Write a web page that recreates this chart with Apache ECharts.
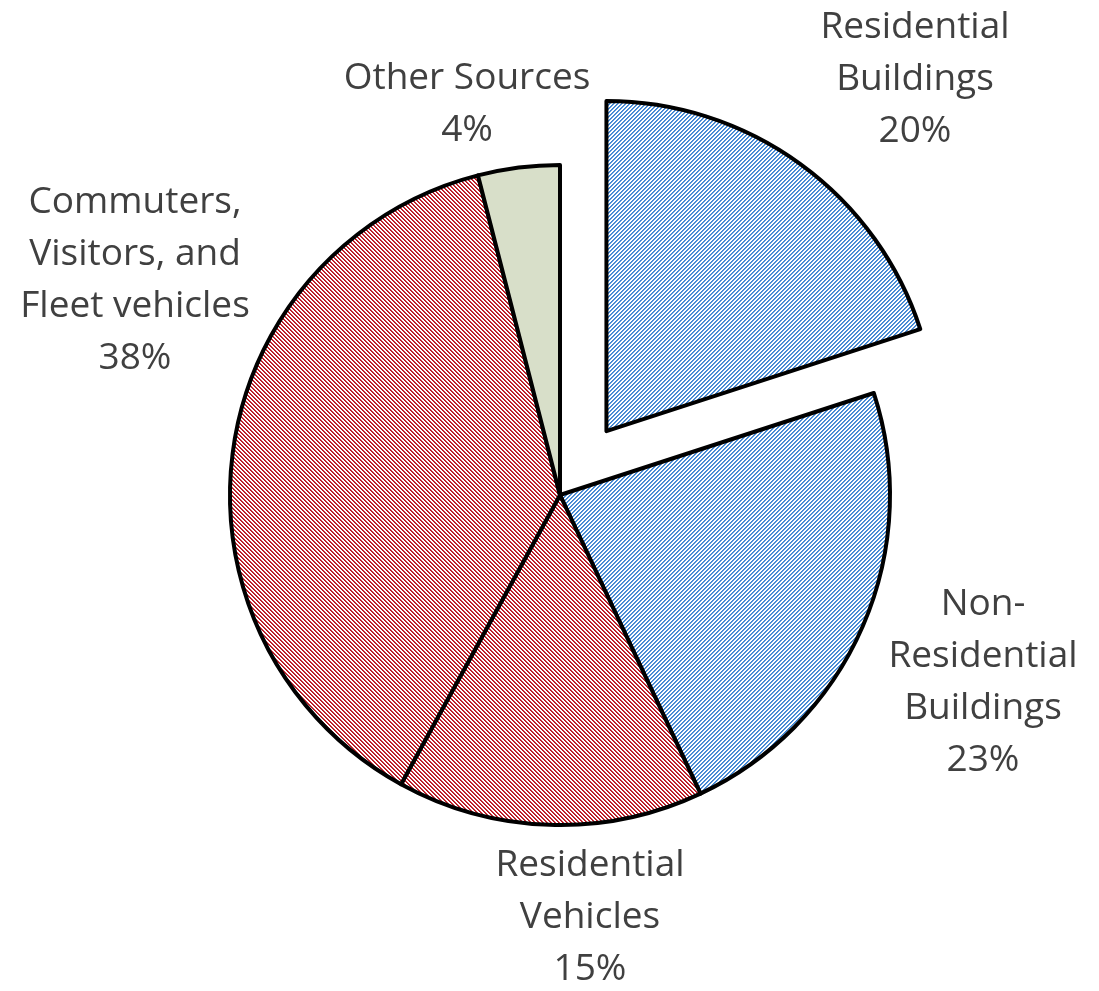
<!DOCTYPE html>
<html>
<head>
<meta charset="utf-8">
<script src="https://cdn.jsdelivr.net/npm/echarts@6/dist/echarts.min.js"></script>
<style>
html,body{margin:0;padding:0;background:#fff;}
#chart{width:1099px;height:991px;}
</style>
</head>
<body>
<div id="chart"></div>
<script>
const categories = ['Residential\nBuildings', 'Non-\nResidential\nBuildings', 'Residential\nVehicles', 'Commuters,\nVisitors, and\nFleet vehicles', 'Other Sources'];
const values = [20, 23, 15, 38, 4];
const explodedIndex = 0;

function hatch(color, dir) {
  const c = document.createElement('canvas');
  c.width = 4; c.height = 4;
  const ctx = c.getContext('2d');
  ctx.fillStyle = '#ffffff';
  ctx.fillRect(0, 0, 4, 4);
  for (let x = 0; x < 4; x++) {
    for (let y = 0; y < 4; y++) {
      const k = dir === 'up' ? (x + y) % 4 : ((x - y) % 4 + 4) % 4;
      if (k === 0) { ctx.globalAlpha = 1; ctx.fillStyle = color; ctx.fillRect(x, y, 1, 1); }
      if (k === 1) { ctx.globalAlpha = 0.85; ctx.fillStyle = color; ctx.fillRect(x, y, 1, 1); }
    }
  }
  return { image: c, repeat: 'repeat' };
}
const blue = hatch('#3d84d2', 'up');
const red = hatch('#b8121d', 'down');
const fills = [blue, blue, red, red, '#d8dfc9'];
const labelAnchors = [[915, 79], [983, 682], [590, 917], [135, 280], [467, 104]];

const cx = 560, cy = 495, R = 330, explode = 79;
const total = values.reduce((a, b) => a + b, 0);
let before = 0;
for (let i = 0; i < explodedIndex; i++) before += values[i];
const midAng = (before + values[explodedIndex] / 2) / total * 2 * Math.PI;
const ecx = cx + explode * Math.sin(midAng), ecy = cy - explode * Math.cos(midAng);

const baseLabel = {
  show: true,
  position: 'outside',
  formatter: p => p.name + '\n' + p.value + '%',
  fontFamily: 'Open Sans',
  fontSize: 37,
  lineHeight: 52,
  color: '#404040',
  align: 'center'
};
function makeSeries(center, showIdx) {
  return {
    type: 'pie',
    center: center,
    radius: [0, R],
    startAngle: 90,
    clockwise: true,
    silent: true,
    avoidLabelOverlap: false,
    emphasis: { disabled: true },
    labelLine: { show: false },
    label: baseLabel,
    labelLayout: function (params) {
      const a = labelAnchors[params.dataIndex];
      return { x: a[0], y: a[1], align: 'center', verticalAlign: 'middle' };
    },
    data: categories.map((n, i) => {
      const vis = showIdx(i);
      return {
        name: n,
        value: values[i],
        itemStyle: vis ? { color: fills[i], borderColor: '#000', borderWidth: 4 }
                       : { color: 'rgba(0,0,0,0)', borderWidth: 0 },
        label: { show: vis }
      };
    })
  };
}

const chart = echarts.init(document.getElementById('chart'), null, { renderer: 'canvas' });
chart.setOption({
  animation: false,
  backgroundColor: '#ffffff',
  series: [
    makeSeries([cx, cy], i => i !== explodedIndex),
    makeSeries([ecx, ecy], i => i === explodedIndex)
  ]
});
</script>
</body>
</html>
